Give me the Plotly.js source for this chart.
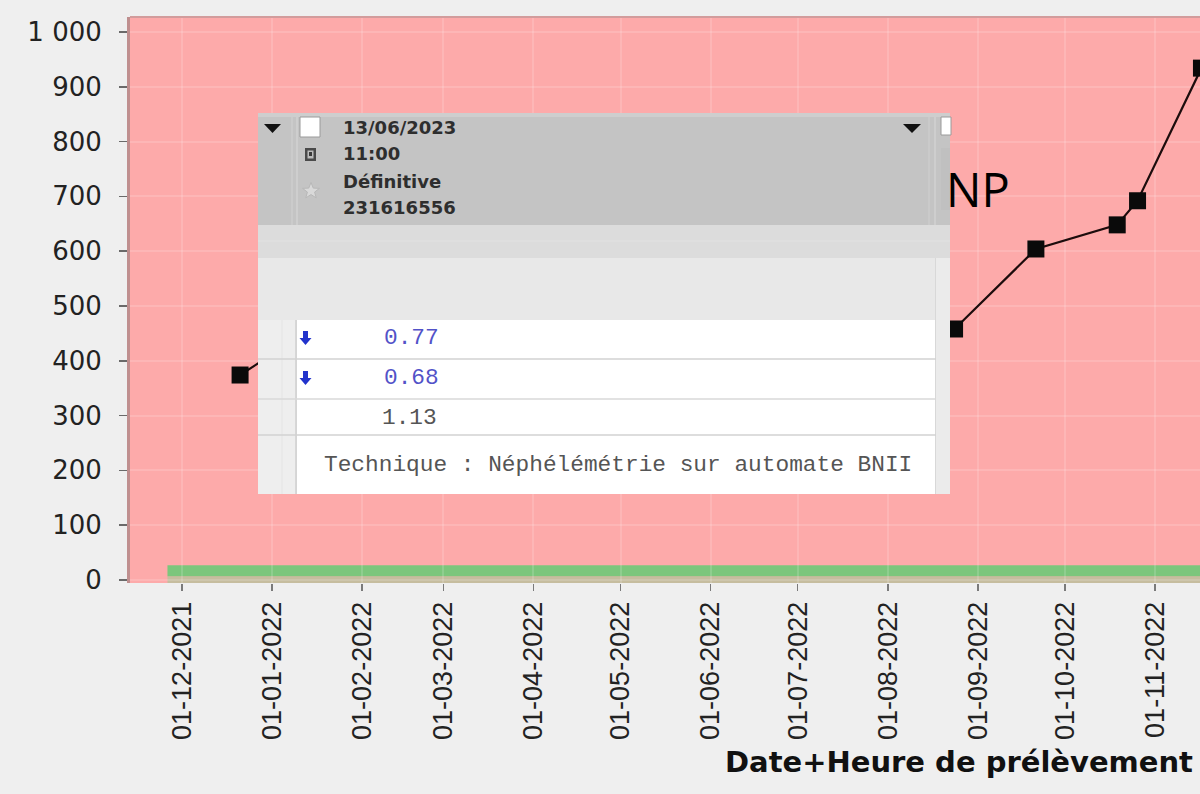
<!DOCTYPE html>
<html><head><meta charset="utf-8">
<script src="https://cdn.plot.ly/plotly-3.0.1.min.js"></script>
<style>html,body{margin:0;padding:0;background:#efefef;overflow:hidden}#chart{width:1200px;height:794px}</style>
</head><body><div id="chart"></div><script>
// ---- data ----
const sampleDates  = ['2021-12-21','2022-01-18','2022-08-24','2022-09-21','2022-10-19','2022-10-26','2022-11-17'];
const sampleValues = [374, 470, 458, 604, 648, 692, 934];
const monthTicks  = ['2021-12-01','2022-01-01','2022-02-01','2022-03-01','2022-04-01','2022-05-01','2022-06-01','2022-07-01','2022-08-01','2022-09-01','2022-10-01','2022-11-01'];
const monthLabels = ['01-12-2021','01-01-2022','01-02-2022','01-03-2022','01-04-2022','01-05-2022','01-06-2022','01-07-2022','01-08-2022','01-09-2022','01-10-2022','01-11-2022'];
const yTickValues = [0,100,200,300,400,500,600,700,800,900,1000];
const yTickLabels = ['0','100','200','300','400','500','600','700','800','900','1 000'];
const normalRange = [9, 27];
const normalRangeStart = '2021-11-26';
const xAxisTitle = 'Date+Heure de prélèvement';
const partialTitle = 'NP';
const popupHeader = ['13/06/2023','11:00','Définitive','231616556'];
const popupResults = ['0.77','0.68','1.13'];
const popupResultColors = ['#5252c8','#5252c8','#555555'];
const popupComment = 'Technique : Néphélémétrie sur automate BNII';

// ---- pixel -> paper helpers for the overlay panel ----
const L = 130, T = 17, W = 1070, H = 566;
const X = p => (p - L) / W;
const Y = p => (T + H - p) / H;
function rect(x0,y0,x1,y1,fill,line){
  return {type:'rect',xref:'paper',yref:'paper',x0:X(x0),x1:X(x1),y0:Y(y1),y1:Y(y0),
    fillcolor:fill,line:{width:line?1:0,color:line||fill},layer:'above'};
}
function seg(x0,y0,x1,y1,color,w){
  return {type:'line',xref:'paper',yref:'paper',x0:X(x0),x1:X(x1),y0:Y(y0),y1:Y(y1),
    line:{color:color,width:w||1},layer:'above'};
}
function poly(pts,fill,line){
  const d = pts.map((p,i)=>(i?'L':'M')+X(p[0]).toFixed(5)+','+Y(p[1]).toFixed(5)).join(' ')+' Z';
  return {type:'path',xref:'paper',yref:'paper',path:d,fillcolor:fill,
    line:{width:line?1:0,color:line||fill},layer:'above'};
}
function txt(x,y,text,family,size,color,weight){
  return {xref:'paper',yref:'paper',x:X(x),y:Y(y),xanchor:'left',yanchor:'middle',
    text:text,showarrow:false,borderpad:0,font:{family:family,size:size,color:color,weight:weight||'normal'}};
}
function arrow(cx,cy,color){
  return poly([[cx-2.5,cy-7],[cx+2.5,cy-7],[cx+2.5,cy],[cx+6,cy],[cx,cy+7],[cx-6,cy],[cx-2.5,cy]],color);
}
const starPts = [];
for(let i=0;i<10;i++){
  const r = i%2 ? 3.6 : 8.5, a = -Math.PI/2 + i*Math.PI/5;
  starPts.push([311 + r*Math.cos(a)*1.05, 191 + r*Math.sin(a)]);
}

const shapes = [
  // reference band at bottom
  {type:'rect',xref:'x',yref:'y',x0:normalRangeStart,x1:'2023-02-01',y0:-5.5,y1:normalRange[0]-2,fillcolor:'#c6bd9f',line:{width:0},layer:'below'},
  {type:'rect',xref:'x',yref:'y',x0:normalRangeStart,x1:'2023-02-01',y0:normalRange[0]-2,y1:normalRange[1],fillcolor:'#7cc67c',line:{width:0},layer:'below'},
  // top border of the plot
  {type:'line',xref:'paper',yref:'paper',x0:0,x1:1,y0:1,y1:1,line:{color:'#d29c9c',width:2}},
  // ---- overlay panel ----
  rect(258,113,950,494,'#e8e8e8'),
  rect(258,113,950,225,'#c4c4c4'),
  rect(258,113,950,117,'#cecece'),
  rect(258,225,950,258,'#dcdcdc'),
  seg(258,241,950,241,'#e2e2e2',1),
  rect(258,258,950,318,'#e8e8e8'),
  rect(258,320,296,494,'#eeeeee'),
  rect(297,320,935,494,'#ffffff'),
  rect(936,258,950,494,'#ebebeb'),
  seg(296,320,296,494,'#cfcfcf',1.5),
  seg(282,320,282,494,'#e4e4e4',1),
  seg(935.5,258,935.5,494,'#d8d8d8',1),
  seg(258,359,936,359,'#d2d2d2',1.5),
  seg(258,399,936,399,'#d8d8d8',1.5),
  seg(258,435,936,435,'#d2d2d2',1.5),
  seg(292,117,292,225,'#d2d2d2',1),
  seg(297,117,297,225,'#d8d8d8',1),
  seg(929,117,929,225,'#d0d0d0',1),
  seg(935,117,935,225,'#d8d8d8',1),
  poly([[264,124],[281,124],[272.5,133]],'#111111'),
  poly([[903,124],[921,124],[912,133]],'#111111'),
  rect(300,117,320,137,'#ffffff','#9a9a9a'),
  rect(941,117,951,135,'#ffffff','#9a9a9a'),
  rect(305,148,316,161,'#4a4a4a'),
  rect(307.5,150.5,313.5,158.5,'#bcbcbc'),
  rect(309,152,312,156,'#3a3a3a'),
  poly(starPts,'#d9d9d9','#b8b8b8'),
  rect(941,148,950,210,'#c0c0c0'),
  arrow(305.5,338,'#2233cc'),
  arrow(305.5,378,'#2233cc')
];

const annotations = [
  txt(945,189,partialTitle,'Open Sans',47,'#000000'),
  txt(724,762,xAxisTitle,'DejaVu Sans',29,'#111111','bold'),
  txt(342,128,popupHeader[0],'DejaVu Sans',18,'#2e2e2e','bold'),
  txt(342,153,popupHeader[1],'DejaVu Sans',18,'#2e2e2e','bold'),
  txt(342,182,popupHeader[2],'DejaVu Sans',18,'#2e2e2e','bold'),
  txt(342,207,popupHeader[3],'DejaVu Sans',18,'#2e2e2e','bold'),
  txt(383,338,popupResults[0],'Liberation Mono',22.8,popupResultColors[0]),
  txt(383,378,popupResults[1],'Liberation Mono',22.8,popupResultColors[1]),
  txt(381,418,popupResults[2],'Liberation Mono',22.8,popupResultColors[2]),
  txt(323,465,popupComment,'Liberation Mono',22.8,'#555555')
];

const trace = {
  x: sampleDates, y: sampleValues, type:'scatter', mode:'lines+markers',
  line:{color:'#1c0c0c',width:2.2},
  marker:{symbol:'square',size:17,color:'#0a0a0a'},
  cliponaxis:true, hoverinfo:'skip'
};

const layout = {
  width:1200, height:794, autosize:false,
  margin:{l:L, r:0, t:T, b:794-T-H, pad:0},
  paper_bgcolor:'#efefef', plot_bgcolor:'#fdaaaa',
  showlegend:false,
  xaxis:{
    type:'date', range:['2021-11-13 02:24','2022-11-16 12:00'],
    tickmode:'array', tickvals:monthTicks, ticktext:monthLabels, tickangle:-90,
    ticks:'outside', ticklen:7, tickwidth:1.5, tickcolor:'#7a7a7a',
    tickfont:{family:'Liberation Sans', size:27, color:'#222222'},
    showgrid:true, gridcolor:'rgba(255,255,255,0.15)', gridwidth:2,
    zeroline:false, showline:false, fixedrange:true
  },
  yaxis:{
    range:[-5.5,1027.3],
    tickmode:'array', tickvals:yTickValues, ticktext:yTickLabels,
    ticks:'outside', ticklen:8, tickwidth:1.5, tickcolor:'#6a6a6a',
    ticklabelstandoff:12,
    tickfont:{family:'DejaVu Sans', size:26, color:'#222222'},
    showgrid:true, gridcolor:'rgba(255,255,255,0.15)', gridwidth:2,
    zeroline:false, showline:true, linecolor:'#bf8f8f', linewidth:3, fixedrange:true
  },
  shapes:shapes,
  annotations:annotations
};

Plotly.newPlot('chart',[trace],layout,{displayModeBar:false,staticPlot:true});
</script></body></html>
